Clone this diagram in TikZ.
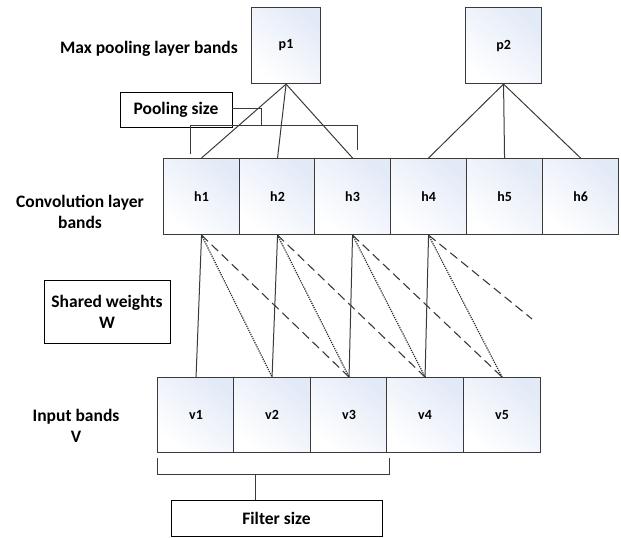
\documentclass[tikz,border=0pt]{standalone}
\usepackage{fontspec}
\setmainfont{Carlito}
\usetikzlibrary{calc}
\definecolor{edge}{HTML}{3A3A3A}
\definecolor{cellblue}{HTML}{E3EAF7}
\tikzset{
  cell/.style={draw=edge, line width=1.1pt, top color=cellblue, bottom color=white,
    shading angle=-40, anchor=north west, inner sep=0pt,
    font=\bfseries\fontsize{14}{16}\selectfont},
  label/.style={font=\bfseries\fontsize{17.5}{21}\selectfont, align=center, inner sep=0pt},
  tagbox/.style={draw=black, line width=0.9pt, fill=white, inner sep=0pt,
    font=\bfseries\fontsize{17.5}{21}\selectfont, align=center},
  link/.style={draw=edge, line width=1pt},
  weightsame/.style={link},
  weightnext/.style={draw=black!85, line width=1.2pt, dash pattern=on 1.2pt off 1.1pt},
  weightfar/.style={draw=edge, line width=1.1pt, dash pattern=on 9pt off 5pt},
}
\begin{document}
\begin{tikzpicture}[x=1pt, y=-1pt]
\useasboundingbox (0,0) rectangle (621,538);

% pooling layer
\node[cell, minimum width=69pt, minimum height=76pt] (p1) at (251,7) {p1};
\node[cell, minimum width=76pt, minimum height=76pt] (p2) at (465,7) {p2};

% convolution layer
\foreach \i/\x in {1/163,2/239,3/314,4/390,5/466,6/542}
  \node[cell, minimum width=76pt, minimum height=76pt] (h\i) at (\x,158) {h\i};

% input layer
\foreach \i/\x in {1/157,2/233,3/310,4/386,5/463}
  \node[cell, minimum width=77pt, minimum height=75pt] (v\i) at (\x,377) {v\i};

% row labels
\node[label, anchor=east] (lmax) at (238,49) {Max pooling layer bands};
\node[label] (lconv) at (80,212) {Convolution layer\\bands};
\node[label] (linput) at (76,426) {Input bands\\V};

% annotation boxes
\node[tagbox, minimum width=126pt, minimum height=63pt] (shared) at (107,311.5)
  {Shared weights\\W};
\node[tagbox, minimum width=112pt, minimum height=35pt] (pool) at (176,109.5)
  {Pooling size};
\node[tagbox, minimum width=211pt, minimum height=36pt] (filter) at (276.5,518)
  {Filter size};

% pooling connections
\foreach \j in {1,2,3} \draw[link] (p1.south) -- (h\j.north);
\foreach \j in {4,5,6} \draw[link] (p2.south) -- (h\j.north);

% pooling size bracket
\coordinate (pk) at (261,108);
\coordinate (pj) at (261,125);
\coordinate (pbl) at (190,125);
\coordinate (pbr) at (357,125);
\coordinate (ptl) at (190,154);
\coordinate (ptr) at (357,150);
\draw[link] (pool.east |- pk) -- (pk) -- (pj);
\draw[link] (ptl) -- (pbl) -- (pbr) -- (ptr);

% filter size bracket
\coordinate (fl) at (157,458);
\coordinate (fbl) at (157,474);
\coordinate (fbr) at (389,474);
\coordinate (fr) at (389,458);
\coordinate (fm) at (255,474);
\draw[link] (fl) -- (fbl) -- (fbr) -- (fr);
\draw[link] (fm) -- (fm |- filter.north);

% shared weights
\foreach \i in {1,2,3,4} \draw[weightsame] (h\i.south) -- (v\i.north);
\foreach \i/\n in {1/2,2/3,3/4,4/5} \draw[weightnext] (h\i.south) -- (v\n.north);
\foreach \i/\n in {1/3,2/4,3/5} \draw[weightfar] (h\i.south) -- (v\n.north);
\coordinate (hend) at (532,319);
\draw[weightfar] (h4.south) -- (hend);
\end{tikzpicture}
\end{document}
